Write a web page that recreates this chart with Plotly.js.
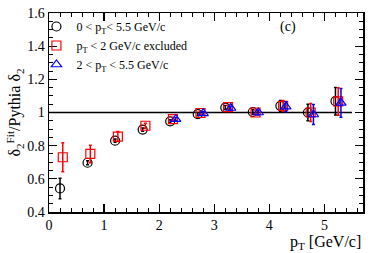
<!DOCTYPE html>
<html>
<head>
<meta charset="utf-8">
<script src="https://cdn.plot.ly/plotly-3.0.1.min.js"></script>
<style>html,body{margin:0;padding:0;background:#fff;}#chart{width:374px;height:253px;}</style>
</head>
<body>
<div id="chart"></div>
<script>
// Data
const xAll = [0.2, 0.7, 1.2, 1.7, 2.2, 2.7, 3.2, 3.7, 4.2, 4.7, 5.2];
const yAll = [0.542, 0.697, 0.83, 0.897, 0.947, 0.99, 1.03, 1.003, 1.04, 1.0, 1.068];
const eAll = [0.062, 0.012, 0.01, 0.01, 0.01, 0.01, 0.012, 0.015, 0.033, 0.05, 0.083];

const xExcl = [0.25, 0.75, 1.25, 1.75, 2.25, 2.75, 3.25, 3.75, 4.25, 4.75, 5.25];
const yExcl = [0.73, 0.75, 0.855, 0.92, 0.96, 0.997, 1.032, 1.0, 1.04, 1.0, 1.067];
const eExcl = [0.087, 0.053, 0.03, 0.015, 0.01, 0.01, 0.012, 0.015, 0.033, 0.055, 0.083];

const xHigh = [2.3, 2.8, 3.3, 3.8, 4.3, 4.8, 5.3];
const yHigh = [0.96, 0.995, 1.027, 1.0, 1.035, 0.988, 1.058];
const eHigh = [0.01, 0.01, 0.012, 0.015, 0.03, 0.06, 0.087];

const names = ['0 < p<sub>T</sub>< 5.5 GeV/c', 'p<sub>T</sub> < 2 GeV/c excluded', '2 < p<sub>T</sub> < 5.5 GeV/c'];
const refLineX = [0, 5.5];
const refLineY = [1, 1];

const serif = '"Liberation Serif", "Times New Roman", serif';

function series(x, y, e, name, color, symbol) {
  return {
    x: x, y: y, name: name, type: 'scatter', mode: 'markers',
    marker: {symbol: symbol, size: 9, color: color, line: {color: color, width: 1.2}},
    error_y: {type: 'data', array: e, visible: true, color: color, thickness: 1.5, width: 1.5},
    cliponaxis: false
  };
}

const traces = [
  {x: refLineX, y: refLineY, type: 'scatter', mode: 'lines', line: {color: 'black', width: 1.5}, showlegend: false, hoverinfo: 'skip'},
  series(xAll, yAll, eAll, names[0], 'black', 'circle-open'),
  series(xExcl, yExcl, eExcl, names[1], 'red', 'square-open'),
  series(xHigh, yHigh, eHigh, names[2], 'blue', 'triangle-up-open')
];

const axisCommon = {
  showgrid: false, zeroline: false, showline: true, linecolor: 'black', linewidth: 1.5,
  mirror: 'allticks', ticks: 'inside', ticklen: 8, tickwidth: 1.2, tickcolor: 'black',
  tickfont: {family: serif, size: 14, color: 'black'}
};

const layout = {
  width: 374, height: 253,
  margin: {l: 49, r: 11, t: 13, b: 41},
  paper_bgcolor: 'white', plot_bgcolor: 'white',
  showlegend: true,
  legend: {x: -0.04, y: 1.005, xanchor: 'left', yanchor: 'top', bgcolor: 'rgba(0,0,0,0)',
           font: {family: serif, size: 12, color: 'black'}, tracegroupgap: 0, itemwidth: 30},
  xaxis: Object.assign({}, axisCommon, {
    range: [0, 5.7], dtick: 1, tick0: 0,
    minor: {dtick: 0.2, ticks: 'inside', ticklen: 4, tickcolor: 'black', tickwidth: 1}
  }),
  yaxis: Object.assign({}, axisCommon, {
    range: [0.4, 1.6], dtick: 0.2, tick0: 0.4,
    minor: {dtick: 0.05, ticks: 'inside', ticklen: 4, tickcolor: 'black', tickwidth: 1},
    title: {text: 'δ<sub>2</sub><sup>Fit</sup>/Pythia δ<sub>2</sub>', font: {family: serif, size: 16, color: 'black'}, standoff: 2}
  }),
  annotations: [
    {text: 'p<sub>T</sub> [GeV/c]', xref: 'paper', yref: 'paper', x: 1, y: -0.095, xanchor: 'right', yanchor: 'top',
     showarrow: false, font: {family: serif, size: 16, color: 'black'}},
    {text: '(c)', xref: 'paper', yref: 'paper', x: 0.76, y: 0.93, xanchor: 'center', yanchor: 'middle',
     showarrow: false, font: {family: serif, size: 14, color: 'black'}}
  ]
};

Plotly.newPlot('chart', traces, layout, {staticPlot: true, displayModeBar: false});
</script>
</body>
</html>
